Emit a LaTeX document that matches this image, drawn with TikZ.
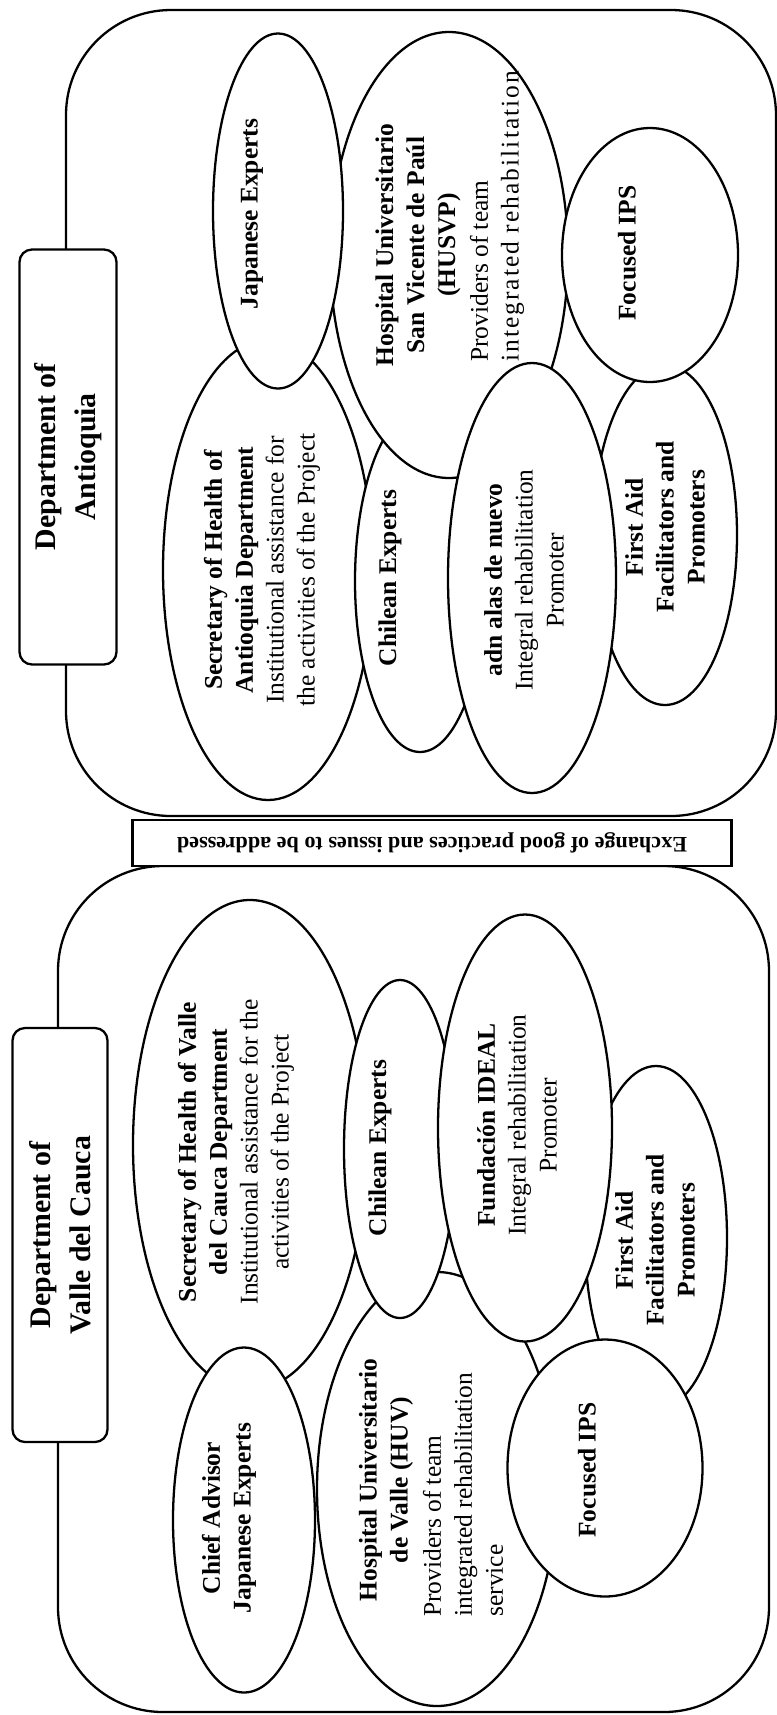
\documentclass[tikz,border=0pt]{standalone}
\usepackage{fontspec}
\setmainfont{Liberation Serif}
\usetikzlibrary{shapes.geometric}

\begin{document}
\begin{tikzpicture}[x=0.02cm, y=-0.02cm,
		deptframe/.style={line width=1.3pt, rounded corners=2.1cm},
		deptbox/.style 2 args={draw, fill=white, line width=1.3pt, rounded corners=0.25cm, rotate=90,
			minimum width=#1*0.02cm, minimum height=#2*0.02cm, align=center,
			font=\bfseries\fontsize{17}{22.5}\selectfont},
		bub/.style 2 args={ellipse, draw, fill=white, line width=1.3pt, rotate=90, inner sep=0pt,
			minimum width=#1*0.02cm, minimum height=#2*0.02cm},
		txt/.style={rotate=90, align=center, inner sep=0pt, font=\fontsize{14.5}{17.6}\selectfont}]
	\useasboundingbox (0,0) rectangle (777,1715);

	% the two departments
	\draw[deptframe] (66,10) rectangle (776,816);
	\draw[deptframe] (58,866) rectangle (769,1712);

	\node[deptbox={415}{97}] (antioquia) at (68,457) {Department of\\Antioquia};
	\node[deptbox={414}{95}] (valle) at (60,1235) {Department of\\Valle del Cauca};

	\node[draw, fill=white, line width=1.3pt, rotate=180, inner sep=0pt, minimum width=599*0.02cm,
		minimum height=46*0.02cm, font=\bfseries\fontsize{12.6}{15}\selectfont] (exchange) at (432,843)
		{Exchange of good practices and issues to be addressed};

	% ellipses, back to front
	\foreach \nm/\cx/\cy/\w/\h in {sa/268/570/210/460, ca/420/581/130/342, ha/449/255/238/446,
		ja/278/211/130/355, fa/665/535/144/340, aa/532/578/168/430, ia/650/255/176/254,
		sv/250/1145/234/490, hv/437/1489/240/434, cv/400/1149/112/338, fv/656/1238/142/344,
		iv/525/1128/174/427, jv/244/1520/142/345, pv/605/1468/195/257}
		\node[bub={\h}{\w}] (\nm) at (\cx,\cy) {};

	% Antioquia
	\node[txt] (sa-t) at (262,570) {\textbf{Secretary of Health of}\\\textbf{Antioquia Department}\\Institutional assistance for\\the activities of the Project};
	\node[txt] (ca-t) at (390,578) {\textbf{Chilean Experts}};
	\node[txt] (ha-t) at (418,245) {\textbf{Hospital Universitario}\\\textbf{San Vicente de Paúl}\\\textbf{(HUSVP)}};
	\node[txt, align=left, anchor=west] (ha-s) at (497,362) {Providers of team\\{\addfontfeature{LetterSpace=8}integrated rehabilitation}};
	\node[txt] (ja-t) at (252,214) {\textbf{Japanese Experts}};
	\node[txt] (fa-t) at (665,527) {\textbf{First Aid}\\\textbf{Facilitators and}\\\textbf{Promoters}};
	\node[txt] (aa-t) at (524,580) {\textbf{adn alas de nuevo}\\Integral rehabilitation\\Promoter};
	\node[txt] (ia-t) at (627,253) {\textbf{Focused IPS}};

	% Valle del Cauca
	\node[txt] (sv-t) at (236,1152) {\textbf{Secretary of Health of Valle}\\\textbf{del Cauca Department}\\Institutional assistance for the\\activities of the Project};
	\node[txt] (cv-t) at (380,1148) {\textbf{Chilean Experts}};
	\node[txt] (iv-t) at (517,1125) {\textbf{Fundación IDEAL}\\Integral rehabilitation\\Promoter};
	\node[txt] (fv-t) at (655,1240) {\textbf{First Aid}\\\textbf{Facilitators and}\\\textbf{Promoters}};
	\node[txt] (jv-t) at (229,1518) {\textbf{Chief Advisor}\\\textbf{Japanese Experts}};
	\node[txt] (hv-t) at (386,1480) {\textbf{Hospital Universitario}\\\textbf{de Valle (HUV)}};
	\node[txt, align=left, anchor=west] (hv-s) at (463,1617) {Providers of team\\integrated rehabilitation\\service};
	\node[txt] (pv-t) at (587,1470) {\textbf{Focused IPS}};
\end{tikzpicture}
\end{document}
